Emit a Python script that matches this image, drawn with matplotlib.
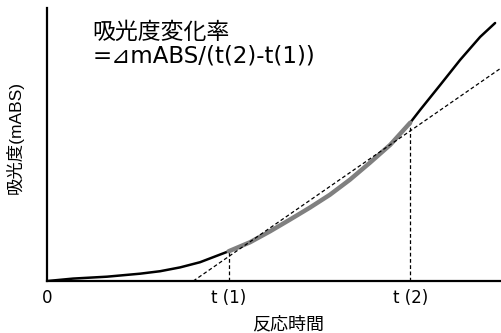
import matplotlib
matplotlib.use('Agg')
import matplotlib.pyplot as plt
import numpy as np

# Latin from Liberation Sans, kanji from Noto CJK
plt.rcParams['font.family'] = ['Liberation Sans', 'Noto Sans CJK JP', 'DejaVu Sans']

# reaction curve (arbitrary units)
t = [0, 0.57, 1.32, 2.05, 2.49, 2.93, 3.37, 3.81, 4.0, 4.47, 4.91, 5.35, 5.79,
     6.23, 6.67, 7.11, 7.56, 8.0, 8.22, 8.66, 9.1, 9.54, 9.87]
absb = [0, 0.09, 0.16, 0.27, 0.36, 0.50, 0.69, 0.97, 1.09, 1.42, 1.82, 2.25, 2.69,
        3.16, 3.71, 4.33, 4.99, 5.80, 6.27, 7.18, 8.10, 8.94, 9.45]
t1, t2 = 4.0, 8.0
chord_t = [3.22, 10.0]
chord_y = [0.0, 7.8]
tick_pos = [0, t1, t2]
tick_labels = ['0', 't (1)', 't (2)']

t = np.array(t)
absb = np.array(absb)

fig = plt.figure(figsize=(5.01, 3.33), dpi=100)
ax = fig.add_axes([0.094, 0.156, 0.906, 0.82])

ax.plot(t, absb, color='black', lw=1.8, solid_capstyle='round', zorder=3)
seg = (t >= t1) & (t <= t2)
ax.plot(t[seg], absb[seg], color='#808080', lw=3.2, solid_capstyle='round', zorder=4)
ax.plot(chord_t, chord_y, color='black', lw=0.9, ls=(0, (3, 2)), zorder=5)
y1 = absb[t == t1][0]
y2 = absb[t == t2][0]
ax.plot([t1, t1], [0, y1], color='black', lw=0.9, ls=(0, (3, 2)))
ax.plot([t2, t2], [0, y2], color='black', lw=0.9, ls=(0, (3, 2)))

ax.set_xlim(0, 10)
ax.set_ylim(0, 10)
for s in ['top', 'right']:
    ax.spines[s].set_visible(False)
ax.spines['left'].set_linewidth(1.6)
ax.spines['bottom'].set_linewidth(1.6)
ax.set_yticks([])
ax.set_xticks(tick_pos)
ax.set_xticklabels(tick_labels, fontsize=12, family=['DejaVu Sans'])
ax.tick_params(axis='x', length=0, pad=6)

fig.text(288 / 501, 1 - 325 / 333, '反応時間', fontsize=13, ha='center', va='center')
fig.text(15 / 501, 1 - 138 / 333, '吸光度(mABS)', fontsize=12.5, rotation=90,
         ha='center', va='center')

ax.text(0.1, 0.912, '吸光度変化率', transform=ax.transAxes, fontsize=16.5, va='center')
ax.text(0.1, 0.825, '=⊿mABS/(t(2)-t(1))', transform=ax.transAxes, fontsize=16.5,
        va='center', family=['DejaVu Sans', 'Noto Sans CJK JP'])

plt.savefig('out.png', dpi=100)
